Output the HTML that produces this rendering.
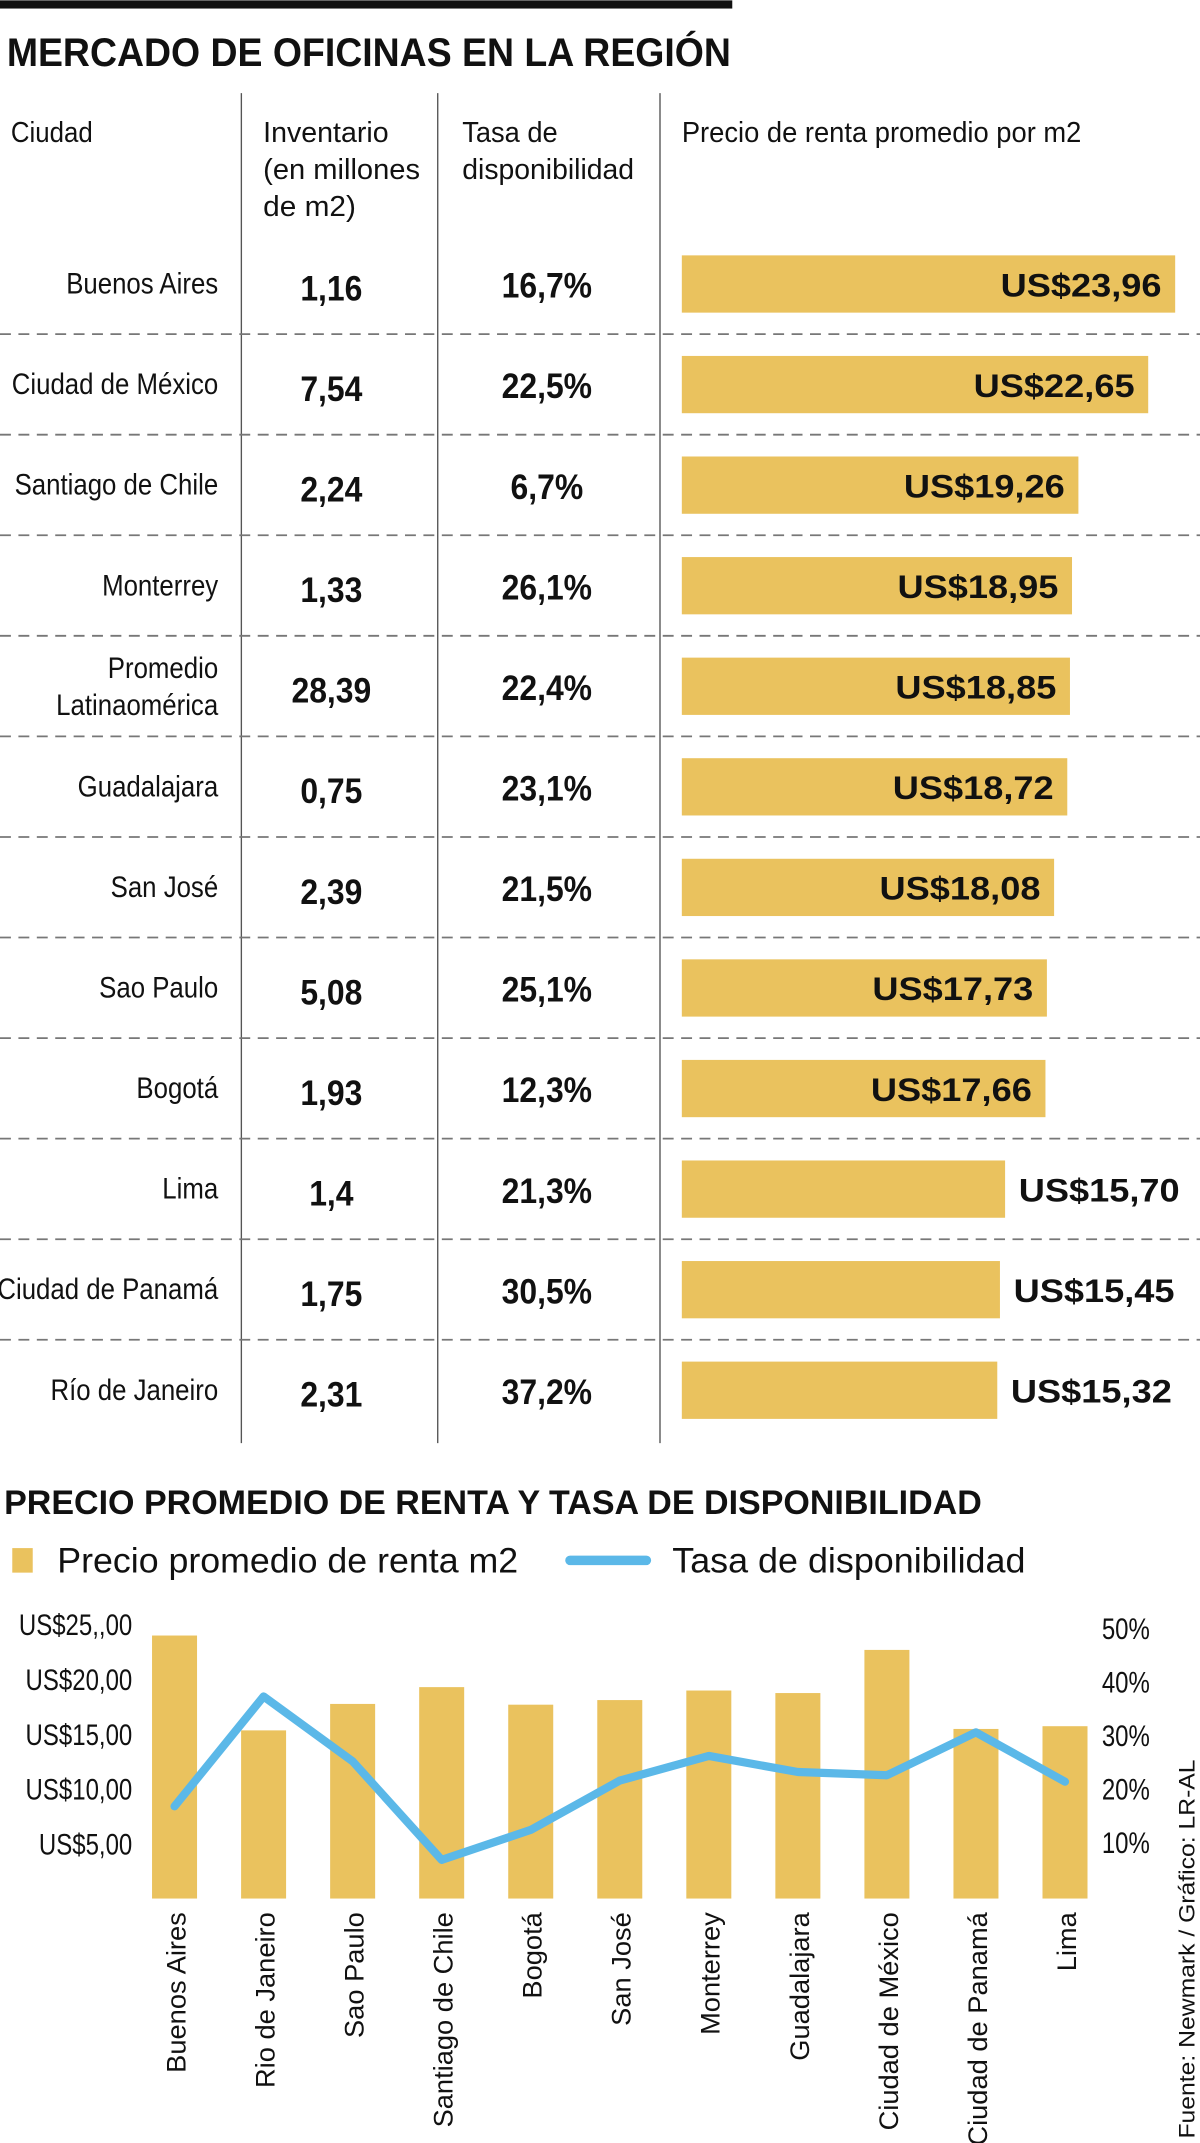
<!DOCTYPE html>
<html><head><meta charset="utf-8">
<style>
html,body{margin:0;padding:0;background:#fff;}
svg{display:block;}
text{font-family:"Liberation Sans Narrow","Liberation Sans",sans-serif;fill:#111;}
</style></head>
<body>
<svg id="root" width="1200" height="2143" viewBox="0 0 880 1571" xmlns="http://www.w3.org/2000/svg">
<rect x="0" y="0" width="537" height="6" fill="#111"/>
<text x="5" y="48" font-size="29" font-weight="bold" textLength="531" lengthAdjust="spacingAndGlyphs">MERCADO DE OFICINAS EN LA REGIÓN</text>
<g id="table">
<line x1="177" y1="68" x2="177" y2="1058" stroke="#555" stroke-width="1"/>
<line x1="321" y1="68" x2="321" y2="1058" stroke="#555" stroke-width="1"/>
<line x1="484" y1="68" x2="484" y2="1058" stroke="#555" stroke-width="1"/>
<text x="8" y="104" font-size="21" textLength="60" lengthAdjust="spacingAndGlyphs">Ciudad</text>
<text font-size="21">
<tspan x="193" y="104" textLength="92" lengthAdjust="spacingAndGlyphs">Inventario</tspan>
<tspan x="193" y="131" textLength="115" lengthAdjust="spacingAndGlyphs">(en millones</tspan>
<tspan x="193" y="158" textLength="68" lengthAdjust="spacingAndGlyphs">de m2)</tspan></text>
<text font-size="21">
<tspan x="339" y="104" textLength="70" lengthAdjust="spacingAndGlyphs">Tasa de</tspan>
<tspan x="339" y="131" textLength="126" lengthAdjust="spacingAndGlyphs">disponibilidad</tspan></text>
<text x="500" y="104" font-size="21" textLength="293" lengthAdjust="spacingAndGlyphs">Precio de renta promedio por m2</text>
</g>
<g id="chart">
<text x="3" y="1110" font-size="25" font-weight="bold" textLength="717" lengthAdjust="spacingAndGlyphs">PRECIO PROMEDIO DE RENTA Y TASA DE DISPONIBILIDAD</text>
<rect x="9" y="1135" width="15" height="18" fill="#EAC25E"/>
<text x="42" y="1153" font-size="26" textLength="338" lengthAdjust="spacingAndGlyphs">Precio promedio de renta m2</text>
<line x1="418" y1="1144" x2="474" y2="1144" stroke="#5BB8E8" stroke-width="7" stroke-linecap="round"/>
<text x="493" y="1153" font-size="26" textLength="259" lengthAdjust="spacingAndGlyphs">Tasa de disponibilidad</text>
<text transform="translate(876,1568) rotate(-90)" font-size="16" textLength="278" lengthAdjust="spacingAndGlyphs" style="font-family:'Liberation Sans',sans-serif">Fuente: Newmark / Gráfico: LR-AL</text>
</g>
</svg>
<script>
// ---- table data ----
const tableCities = ["Buenos Aires","Ciudad de México","Santiago de Chile","Monterrey","Promedio|Latinaomérica","Guadalajara","San José","Sao Paulo","Bogotá","Lima","Ciudad de Panamá","Río de Janeiro"];
const tableInventory = ["1,16","7,54","2,24","1,33","28,39","0,75","2,39","5,08","1,93","1,4","1,75","2,31"];
const tableRate = ["16,7%","22,5%","6,7%","26,1%","22,4%","23,1%","21,5%","25,1%","12,3%","21,3%","30,5%","37,2%"];
const tablePrice = [23.96,22.65,19.26,18.95,18.85,18.72,18.08,17.73,17.66,15.70,15.45,15.32];
// ---- chart data ----
const chartCities = ["Buenos Aires","Rio de Janeiro","Sao Paulo","Santiago de Chile","Bogotá","San José","Monterrey","Guadalajara","Ciudad de México","Ciudad de Panamá","Lima"];
const chartPrice = [23.96,15.32,17.73,19.26,17.66,18.08,18.95,18.72,22.65,15.45,15.70];
const chartRate = [16.7,37.2,25.1,6.7,12.3,21.5,26.1,23.1,22.5,30.5,21.3];
const leftTicks = [5,10,15,20,25];
const leftTickLabels = ["US$5,00","US$10,00","US$15,00","US$20,00","US$25,,00"];
const rightTicks = [10,20,30,40,50];
const rightTickLabels = ["10%","20%","30%","40%","50%"];

const NS="http://www.w3.org/2000/svg";
const table=document.getElementById('table');
const chart=document.getElementById('chart');
function mk(tag,attrs,parent,txt){const e=document.createElementNS(NS,tag);for(const k in attrs)e.setAttribute(k,attrs[k]);if(txt!==undefined)e.textContent=txt;parent.appendChild(e);return e;}
function fmtPrice(v){return "US$"+v.toFixed(2).replace('.',',');}
const SX=0.86;

const rowY=i=>208+i*73.75;
const barX=v=>500+v*15.1;
tableCities.forEach((c,i)=>{
  const cy=rowY(i);
  if(i>0){
    const l=mk('line',{x1:0,x2:880,y1:cy-37,y2:cy-37,stroke:'#777','stroke-width':1.3,'stroke-dasharray':'8,5.5'},table);
    
    
  }
  let t;
  if(c.includes('|')){
    const parts=c.split('|');
    t=mk('text',{transform:`translate(160,${cy}) scale(${SX},1)`,'text-anchor':'end','font-size':22},table);
    mk('tspan',{x:0,y:-6},t,parts[0]);
    mk('tspan',{x:0,y:21},t,parts[1]);
  } else {
    t=mk('text',{transform:`translate(160,${cy+7}) scale(${SX},1)`,x:0,y:0,'text-anchor':'end','font-size':22},table,c);
  }
  
  
  const inv=mk('text',{transform:`translate(243,${cy+12}) scale(0.9,1)`,x:0,y:0,'text-anchor':'middle','font-size':26,'font-weight':'bold',style:"font-family:'Liberation Sans',sans-serif"},table,tableInventory[i]);
  
  
  const rt=mk('text',{transform:`translate(401,${cy+10}) scale(0.9,1)`,x:0,y:0,'text-anchor':'middle','font-size':26,'font-weight':'bold',style:"font-family:'Liberation Sans',sans-serif"},table,tableRate[i]);
  
  
  const x1=barX(tablePrice[i]);
  const b=mk('rect',{x:500,y:cy-21,width:x1-500,height:42,fill:'#EAC25E'},table);
  
  
  const inside=tablePrice[i]>=17;
  const lab=mk('text',{x:inside?x1-10:x1+10,y:cy+9,'text-anchor':inside?'end':'start','font-size':24,'font-weight':'bold',textLength:118,lengthAdjust:'spacingAndGlyphs',style:"font-family:'Liberation Sans',sans-serif"},table,fmtPrice(tablePrice[i]));
  
  
});

const y0=1392;
const yL=v=>y0-v*8.05;
const yR=v=>1390-v*3.93;
const xC=i=>128+i*65.3;
leftTicks.forEach((v,i)=>{
  const t=mk('text',{transform:`translate(97,${yL(v)+8}) scale(0.8,1)`,x:0,y:0,'text-anchor':'end','font-size':22},chart,leftTickLabels[i]);
  
  
});
rightTicks.forEach((v,i)=>{
  const t=mk('text',{transform:`translate(808,${yR(v)+8}) scale(0.8,1)`,x:0,y:0,'font-size':22},chart,rightTickLabels[i]);
  
  
});
chartPrice.forEach((v,i)=>{
  const b=mk('rect',{x:xC(i)-16.5,y:yL(v),width:33,height:y0-yL(v),fill:'#EAC25E'},chart);
  
  
  const t=mk('text',{transform:`translate(${xC(i)+8},1402) rotate(-90)`,'text-anchor':'end','font-size':20,style:"font-family:'Liberation Sans',sans-serif"},chart,chartCities[i]);
  
  
});
const pts=chartRate.map((v,i)=>xC(i)+','+yR(v)).join(' ');
const line=mk('polyline',{points:pts,fill:'none',stroke:'#5BB8E8','stroke-width':6,'stroke-linejoin':'round','stroke-linecap':'round'},chart);


</script>
</body></html>
